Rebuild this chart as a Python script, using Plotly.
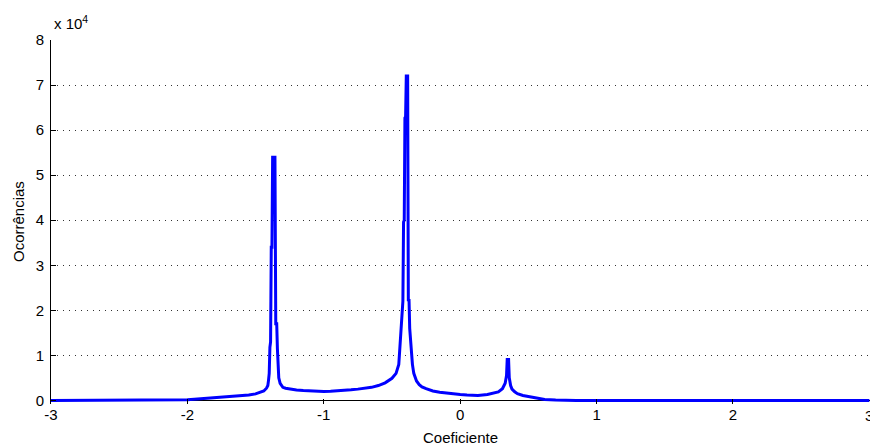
import plotly.graph_objects as go

# Histogram of coefficients
coef = [-3.00, -2.50, -2.20, -2.10, -2.00, -1.95, -1.90, -1.85, -1.80, -1.75,
        -1.70, -1.65, -1.60, -1.55, -1.50, -1.47, -1.44, -1.42, -1.41, -1.405,
        -1.400, -1.395, -1.390, -1.385, -1.380, -1.375, -1.365, -1.358, -1.352, -1.345,
        -1.340, -1.335, -1.330, -1.320, -1.310, -1.300, -1.28, -1.25, -1.20, -1.15,
        -1.10, -1.05, -1.00, -0.95, -0.90, -0.85, -0.80, -0.75, -0.70, -0.65,
        -0.60, -0.55, -0.50, -0.47, -0.45, -0.44, -0.43, -0.42, -0.415, -0.41,
        -0.405, -0.40, -0.395, -0.385, -0.38, -0.375, -0.37, -0.36, -0.35, -0.34,
        -0.33, -0.32, -0.30, -0.28, -0.25, -0.20, -0.15, -0.10, -0.05, 0.00,
        0.05, 0.10, 0.13, 0.20, 0.25, 0.28, 0.31, 0.33, 0.34, 0.345,
        0.355, 0.36, 0.37, 0.38, 0.40, 0.42, 0.46, 0.52, 0.58, 0.62,
        0.70, 0.80, 0.85, 1.50, 3.00]
ocorr = [0, 0, 0, 50, 150, 250, 350, 450, 550, 650,
         750, 850, 1000, 1200, 1450, 1700, 2100, 2700, 3300, 4500,
         6000, 11800, 13000, 34000, 34000, 54000, 54000, 54000, 17000, 17000,
         11500, 7000, 5000, 3800, 3200, 2900, 2700, 2500, 2300, 2200,
         2100, 2050, 2000, 2050, 2100, 2200, 2350, 2500, 2700, 2900,
         3300, 3900, 4900, 6000, 8000, 13000, 16000, 22000, 39600, 40000,
         62700, 63000, 72000, 72000, 22000, 22500, 16000, 11000, 8000, 6000,
         5000, 4300, 3500, 3000, 2600, 2100, 1800, 1600, 1400, 1300,
         1200, 1150, 1100, 1300, 1600, 1900, 2600, 3800, 5500, 9100,
         9100, 5000, 3300, 2500, 1900, 1500, 1100, 700, 350, 200,
         80, 10, 0, 0, 0]

x_ticks = [-3, -2, -1, 0, 1, 2, 3]
y_ticks = [0, 10000, 20000, 30000, 40000, 50000, 60000, 70000, 80000]
y_tick_text = ["0", "1", "2", "3", "4", "5", "6", "7", "8"]

FONT = "Liberation Sans, Arial, sans-serif"

fig = go.Figure()
fig.add_trace(go.Scatter(x=coef, y=ocorr, mode="lines",
                         line=dict(color="#0000FF", width=3), showlegend=False))

annotations = [
    dict(text="x 10<sup>4</sup>", x=0, y=1, xref="paper", yref="paper",
         xanchor="left", yanchor="bottom", xshift=1, yshift=6,
         showarrow=False, font=dict(size=15, family=FONT)),
    dict(text="Coeficiente", x=0.5, y=0, xref="paper", yref="paper",
         xanchor="center", yanchor="middle", yshift=-33,
         showarrow=False, font=dict(size=15, family=FONT)),
    dict(text="Ocorrências", x=0, y=0.5, xref="paper", yref="paper",
         xanchor="center", yanchor="middle", xshift=-33, textangle=-90,
         showarrow=False, font=dict(size=15, family=FONT)),
    # last tick label, which sits on the window edge in the reference
    dict(text=str(x_ticks[-1]), x=x_ticks[-1], y=0, xref="x", yref="paper",
         xanchor="center", yanchor="top", yshift=-1,
         showarrow=False, font=dict(size=15, family=FONT)),
]

fig.update_layout(
    width=870, height=445,
    margin=dict(l=51, r=0, t=40, b=41),
    paper_bgcolor="white", plot_bgcolor="white",
    font=dict(family=FONT, size=15, color="black"),
    xaxis=dict(range=[-3, 3.005], tickvals=x_ticks[:-1],
               ticktext=[str(v) for v in x_ticks[:-1]],
               showgrid=False, zeroline=False, showline=False,
               ticks="inside", ticklen=5, tickcolor="black",
               ticklabelstandoff=0),
    yaxis=dict(range=[-800, 80000], tickvals=y_ticks, ticktext=y_tick_text,
               showgrid=True, gridcolor="#333333", griddash="1px,5px", gridwidth=1,
               zeroline=True, zerolinecolor="black", zerolinewidth=1,
               showline=True, linecolor="black", linewidth=1,
               ticks="inside", ticklen=5, tickcolor="black",
               ticklabelstandoff=3),
    annotations=annotations,
)

fig.write_html("out.html")
